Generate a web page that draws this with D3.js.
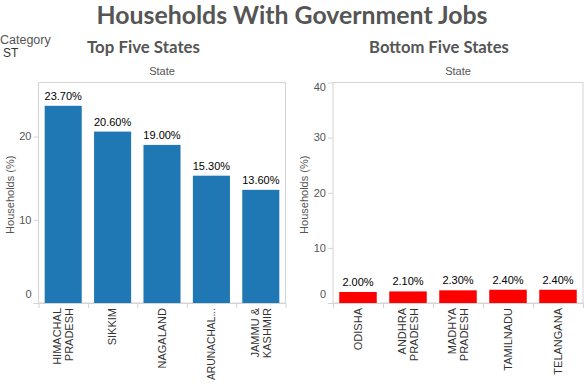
<!DOCTYPE html>
<html>
<head>
<meta charset="utf-8">
<script src="https://cdn.jsdelivr.net/npm/d3@7"></script>
<style>
  body { margin: 0; background: #fff; }
  svg { display: block; font-family: Arial, "Liberation Sans", sans-serif; }
</style>
</head>
<body>
<svg width="584" height="384"></svg>
<script>
// data
const topStates = [["HIMACHAL", "PRADESH"], ["SIKKIM"], ["NAGALAND"], ["ARUNACHAL..."], ["JAMMU &", "KASHMIR"]];
const topValues = [23.7, 20.6, 19.0, 15.3, 13.6];
const topTicks = [0, 10, 20];

const bottomStates = [["ODISHA"], ["ANDHRA", "PRADESH"], ["MADHYA", "PRADESH"], ["TAMILNADU"], ["TELANGANA"]];
const bottomValues = [2.0, 2.1, 2.3, 2.4, 2.4];
const bottomTicks = [0, 10, 20, 30, 40];

const svg = d3.select('svg');
const frameTop = 82.5, frameBottom = 303;

// fit a bold heading to a target width
function fitText(sel, width, size) {
  sel.style('font-size', size + 'px');
  const w = sel.node().getComputedTextLength();
  sel.style('font-size', (size * width / w).toFixed(2) + 'px');
}

const title = svg.append('text')
  .attr('x', 292).attr('y', 24)
  .attr('text-anchor', 'middle')
  .style('font-family', 'Lato, "Open Sans", sans-serif')
  .style('font-weight', 'bold')
  .style('fill', '#555')
  .text('Households With Government Jobs');
fitText(title, 391, 23);

svg.append('text').attr('x', 0).attr('y', 44)
  .style('font-size', '12.5px').style('fill', '#555').text('Category');
svg.append('text').attr('x', 3).attr('y', 57)
  .style('font-size', '12px').style('fill', '#333').text('ST');

function drawPanel(o) {
  const g = svg.append('g');
  const x = d3.scaleBand()
    .domain(d3.range(o.values.length))
    .range([o.left, o.right])
    .paddingInner(0.25).paddingOuter(0.125);
  const y = d3.scaleLinear().domain([0, o.max]).range([frameBottom, frameTop]);

  const head = g.append('text')
    .attr('x', o.headX).attr('y', 53)
    .attr('text-anchor', 'middle')
    .style('font-family', 'Lato, "Open Sans", sans-serif')
    .style('font-weight', 'bold')
    .style('fill', '#555')
    .text(o.title);
  fitText(head, o.headW, 16);

  g.append('text')
    .attr('x', (o.left + o.right) / 2).attr('y', 75)
    .attr('text-anchor', 'middle')
    .style('font-size', '11px').style('fill', '#555')
    .text('State');

  // frame
  g.append('rect')
    .attr('x', o.left).attr('y', frameTop)
    .attr('width', o.right - o.left).attr('height', frameBottom - frameTop)
    .attr('fill', 'none').attr('stroke', '#d4d4d4');

  // y ticks
  g.selectAll('.ytick').data(o.ticks).enter().append('line')
    .attr('x1', o.left - 5).attr('x2', o.left)
    .attr('y1', d => y(d) + 0.5).attr('y2', d => y(d) + 0.5)
    .attr('stroke', '#d4d4d4');
  g.selectAll('.ylab').data(o.ticks).enter().append('text')
    .attr('x', o.left - 7)
    .attr('y', d => Math.max(frameTop + 5, Math.min(frameBottom - 8.5, y(d))))
    .attr('dy', '0.35em')
    .attr('text-anchor', 'end')
    .style('font-size', '11px').style('fill', '#555')
    .text(d => d);

  g.append('text')
    .attr('transform', `translate(${o.left - 28.5},${(frameTop + frameBottom) / 2 + 2}) rotate(-90)`)
    .attr('text-anchor', 'middle')
    .attr('dy', '0.35em')
    .style('font-size', '11px').style('fill', '#555')
    .text('Households (%)');

  // bars
  g.selectAll('.bar').data(o.values).enter().append('rect')
    .attr('x', (d, i) => x(i))
    .attr('width', x.bandwidth())
    .attr('y', d => y(d))
    .attr('height', d => frameBottom - y(d))
    .attr('fill', o.color);

  g.selectAll('.val').data(o.values).enter().append('text')
    .attr('x', (d, i) => x(i) + x.bandwidth() / 2)
    .attr('y', d => y(d) - 6)
    .attr('text-anchor', 'middle')
    .style('font-size', '11px').style('fill', '#000')
    .text(d => d.toFixed(2) + '%');

  // x axis line and band ticks
  g.append('line')
    .attr('x1', o.left - 5).attr('x2', o.right)
    .attr('y1', frameBottom + 0.5).attr('y2', frameBottom + 0.5)
    .attr('stroke', '#d4d4d4');
  const step = x.step();
  g.selectAll('.xtick').data(d3.range(o.values.length + 1)).enter().append('line')
    .attr('x1', i => o.left + i * step + 0.5).attr('x2', i => o.left + i * step + 0.5)
    .attr('y1', frameBottom).attr('y2', frameBottom + 5)
    .attr('stroke', '#d4d4d4');

  const cat = g.selectAll('.cat').data(o.states).enter().append('text')
    .attr('transform', (d, i) => `translate(${x(i) + x.bandwidth() / 2},${frameBottom + 5}) rotate(-90)`)
    .attr('text-anchor', 'end')
    .style('font-size', '11px').style('fill', '#333');
  cat.selectAll('tspan').data(d => d.map((t, j) => ({ t, off: (j - (d.length - 1) / 2) * 12 })))
    .enter().append('tspan')
    .attr('x', 0)
    .attr('y', d => d.off)
    .attr('dy', '0.35em')
    .text(d => d.t)
    .each(function() {
      // keep long names inside the bottom edge
      if (this.getComputedTextLength() > 72) {
        d3.select(this).attr('textLength', 72).attr('lengthAdjust', 'spacingAndGlyphs');
      }
    });
}

drawPanel({
  title: 'Top Five States', headX: 143.5, headW: 113,
  left: 38.5, right: 285.5, max: 26.5,
  values: topValues, states: topStates, ticks: topTicks, color: '#1f77b4'
});
drawPanel({
  title: 'Bottom Five States', headX: 439, headW: 140,
  left: 333, right: 583, max: 40,
  values: bottomValues, states: bottomStates, ticks: bottomTicks, color: '#ff0000'
});
</script>
</body>
</html>
